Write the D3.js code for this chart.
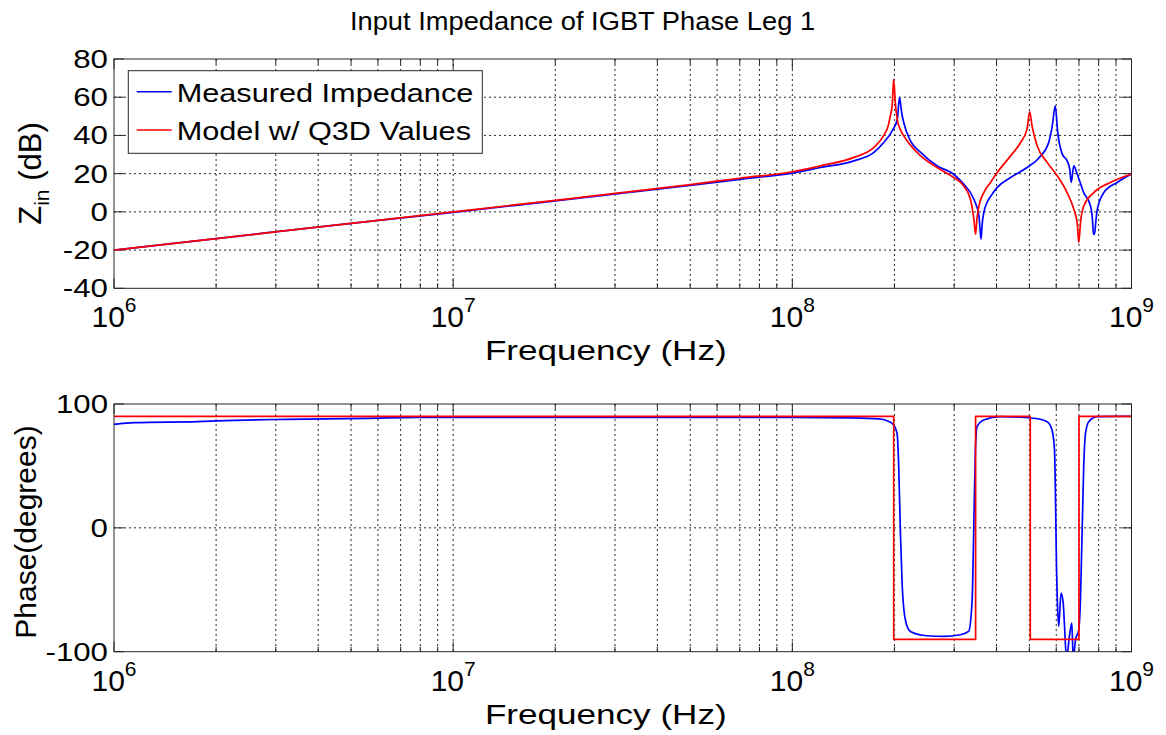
<!DOCTYPE html>
<html><head><meta charset="utf-8">
<script src="https://cdn.jsdelivr.net/npm/d3@7"></script>
<style>
body{margin:0;background:#fff}
text{font-family:"Liberation Sans",Arial,Helvetica,sans-serif;fill:#000}
</style>
</head><body>
<svg id="c" width="1166" height="735"></svg>
<script>
// ---------------- DATA ----------------
const seriesNames = ["Measured Impedance", "Model w/ Q3D Values"];
const yTicksMag = [-40, -20, 0, 20, 40, 60, 80];
const yTicksPhase = [-100, 0, 100];
const xDecades = [1e6, 1e7, 1e8, 1e9];
const xDecadeExp = ["6", "7", "8", "9"];

// magnitude (dB) – measured
const magFreqMeasured = [1e6,2e6,5e6,1e7,2e7,5e7,7e7,1e8,1.21e8,1.52e8,1.74e8,1.86e8,1.97e8,2.04e8,2.07e8,2.1e8,2.13e8,2.23e8,2.39e8,2.67e8,2.99e8,3.2e8,3.43e8,3.55e8,3.6e8,3.63e8,3.67e8,3.75e8,3.84e8,4.02e8,4.4e8,4.92e8,5.35e8,5.7e8,5.84e8,5.96e8,6.06e8,6.25e8,6.46e8,6.58e8,6.64e8,6.76e8,6.92e8,7.23e8,7.57e8,7.68e8,7.72e8,7.78e8,7.85e8,7.93e8,8.29e8,9.07e8,1e9];
const magMeasured = [-20,-14,-6,-0.3,5.8,13.8,17,20.3,23.2,26.7,31.1,36.3,42.4,48.6,59.9,52,46.8,37.2,31.1,24.1,19.7,14.5,6.6,-2.1,-14.3,-6,-0.3,4.9,8,12.8,18,23.2,28.5,36.3,45,55.5,41.6,30.2,26.7,22,15.4,24.1,19.7,10.1,3.1,-5,-11.7,-11.7,-5,1.4,10.1,15.4,19.8];

// magnitude (dB) – model
const magFreqModel = [1e6,2e6,5e6,1e7,2e7,5e7,7e7,1e8,1.21e8,1.52e8,1.74e8,1.86e8,1.92e8,1.945e8,1.97e8,1.99e8,2.01e8,2.04e8,2.08e8,2.18e8,2.39e8,2.67e8,2.99e8,3.2e8,3.35e8,3.43e8,3.47e8,3.5e8,3.55e8,3.67e8,3.84e8,4.02e8,4.4e8,4.71e8,4.92e8,5.01e8,5.09e8,5.27e8,5.64e8,6.04e8,6.46e8,6.76e8,6.92e8,6.99e8,7.08e8,7.23e8,7.74e8,8.67e8,1e9];
const magModel = [-20,-14,-6,0,6,14.3,17.6,21,24.1,28.5,33.7,40,45.5,50.3,56,69.5,58,48,43.3,37.2,29.3,23.2,18,13.6,6.6,-3.9,-11.7,-4,3.1,10.1,15.4,20.6,29.3,36.3,43.3,52.4,45,34.6,25.9,18.9,10.1,1.4,-6,-16.1,-5,3.1,10.1,15.4,19.8];

// phase (degrees) – measured
const phFreqMeasured = [1e6,1.15e6,1.76e6,2.26e6,3.24e6,5.57e6,7.83e6,3.1e7,1e8,1.5e8,1.8e8,1.904e8,1.99e8,2.036e8,2.059e8,2.083e8,2.107e8,2.154e8,2.228e8,2.497e8,2.795e8,3.13e8,3.31e8,3.39e8,3.425e8,3.465e8,3.505e8,3.666e8,4.11e8,5.15e8,5.64e8,5.83e8,5.93e8,5.97e8,6.01e8,6.04e8,6.1e8,6.2e8,6.29e8,6.34e8,6.43e8,6.58e8,6.67e8,6.73e8,6.84e8,6.99e8,7.07e8,7.15e8,7.23e8,7.32e8,7.48e8,7.92e8,1e9];
const phMeasured = [83.6,85,85.8,86.8,87.6,88.4,89.2,89.2,89.2,88.8,88,86.5,83,76.4,49.5,-4.3,-44.6,-74.2,-83.6,-87.1,-87.6,-86.3,-83.6,-58,-4.3,62.9,81.7,87.1,89.8,88.5,85.7,79,62.9,22.6,-31.2,-55.4,-79.6,-52.7,-60.7,-76.9,-105,-84.9,-76.9,-105,-90.3,-82.3,-58,-4.3,49.5,76.4,85.7,89.8,90];

// phase (degrees) – model
const phFreqModel = [1e6,1.99e8,1.99e8,3.47e8,3.47e8,5.03e8,5.03e8,7.0e8,7.0e8,1e9];
const phModel = [90,90,-90,-90,90,90,-90,-90,90,90];

// ---------------- DRAW ----------------
const svg = d3.select("#c");
const L = 114, R = 1131.5;
const x = d3.scaleLog().domain([1e6, 1e9]).range([L, R]);
const panels = [
  {top: 59, bot: 288.3, dom: [-40, 80], ticks: yTicksMag,
   series: [[magFreqMeasured, magMeasured, "#0000ff", true], [magFreqModel, magModel, "#ff0000", true]]},
  {top: 404, bot: 651.7, dom: [-100, 100], ticks: yTicksPhase,
   series: [[phFreqMeasured, phMeasured, "#0000ff", true], [phFreqModel, phModel, "#ff0000", false]]}
];

const gridX = [];
for (let d = 1e6; d < 1e9; d *= 10) for (let k = 1; k <= 9; k++) gridX.push(d * k);
gridX.push(1e9);

panels.forEach((p, i) => {
  const y = d3.scaleLinear().domain(p.dom).range([p.bot, p.top]);
  const g = svg.append("g");
  // grid
  const grid = g.append("g").attr("stroke", "#111").attr("stroke-width", 0.9)
    .attr("stroke-dasharray", "2,3").attr("fill", "none");
  gridX.filter(v => v > 1e6 && v < 1e9).forEach(v => {
    grid.append("line").attr("x1", x(v)).attr("x2", x(v)).attr("y1", p.top).attr("y2", p.bot);
  });
  p.ticks.filter(v => v > p.dom[0] && v < p.dom[1]).forEach(v => {
    grid.append("line").attr("x1", L).attr("x2", R).attr("y1", y(v)).attr("y2", y(v));
  });
  // ticks (inside, all four sides)
  const tk = g.append("g").attr("stroke", "#262626").attr("stroke-width", 1);
  gridX.forEach(v => {
    const major = xDecades.includes(v);
    const len = major ? 10 : 5;
    tk.append("line").attr("x1", x(v)).attr("x2", x(v)).attr("y1", p.bot).attr("y2", p.bot - len);
    tk.append("line").attr("x1", x(v)).attr("x2", x(v)).attr("y1", p.top).attr("y2", p.top + len);
  });
  p.ticks.forEach(v => {
    tk.append("line").attr("x1", L).attr("x2", L + 10).attr("y1", y(v)).attr("y2", y(v));
    tk.append("line").attr("x1", R).attr("x2", R - 10).attr("y1", y(v)).attr("y2", y(v));
  });
  // data
  const cid = "clip" + i;
  svg.append("clipPath").attr("id", cid).append("rect")
    .attr("x", L).attr("y", p.top).attr("width", R - L).attr("height", p.bot - p.top);
  const dg = g.append("g").attr("clip-path", `url(#${cid})`);
  p.series.forEach(([fx, vy, col, smooth]) => {
    const line = d3.line().x((d, j) => x(fx[j])).y(d => y(d))
      .curve(smooth ? d3.curveMonotoneX : d3.curveLinear);
    dg.append("path").attr("d", line(vy)).attr("fill", "none")
      .attr("stroke", col).attr("stroke-width", 1.7).attr("stroke-linejoin", "round");
  });
  // box
  g.append("rect").attr("x", L).attr("y", p.top).attr("width", R - L).attr("height", p.bot - p.top)
    .attr("fill", "none").attr("stroke", "#262626").attr("stroke-width", 1);
  // y tick labels
  p.ticks.forEach(v => {
    g.append("text").attr("transform", `translate(${L - 6},${y(v) + 9}) scale(1.25,1)`)
      .attr("text-anchor", "end").attr("font-size", 25).text(v);
  });
  // x tick labels 10^n
  xDecades.forEach((v, j) => {
    const t = g.append("text").attr("x", x(v)).attr("y", p.bot + 39)
      .attr("text-anchor", "middle").attr("font-size", 30);
    t.append("tspan").text("10");
    t.append("tspan").attr("dy", -15).attr("font-size", 21).text(xDecadeExp[j]);
  });
  // x label
  g.append("text").attr("transform", `translate(${(L + R) / 2 - 17},${p.bot + 72}) scale(1.3,1)`)
    .attr("text-anchor", "middle").attr("font-size", 27).text("Frequency (Hz)");
});

// y labels
const zl = svg.append("text").attr("transform", "translate(41,173.5) rotate(-90)")
  .attr("text-anchor", "middle").attr("font-size", 31);
zl.append("tspan").text("Z");
zl.append("tspan").attr("dy", 8).attr("font-size", 21).text("in");
zl.append("tspan").attr("dy", -8).text(" (dB)");

svg.append("text").attr("transform", "translate(36,532) rotate(-90)")
  .attr("text-anchor", "middle").attr("font-size", 30).text("Phase(degrees)");

// title
svg.append("text").attr("transform", "translate(582.5,30) scale(1.05,1)")
  .attr("text-anchor", "middle").attr("font-size", 26)
  .text("Input Impedance of IGBT Phase Leg 1");

// legend
const lg = svg.append("g");
lg.append("rect").attr("x", 128.3).attr("y", 70.7).attr("width", 354).attr("height", 82.6)
  .attr("fill", "#fff").attr("stroke", "#262626").attr("stroke-width", 1);
const legCols = ["#0000ff", "#ff0000"];
seriesNames.forEach((nm, i) => {
  const yy = 91.7 + i * 38.3;
  lg.append("line").attr("x1", 136.7).attr("x2", 171.7).attr("y1", yy).attr("y2", yy)
    .attr("stroke", legCols[i]).attr("stroke-width", 1.6);
  lg.append("text").attr("transform", `translate(176.7,${yy + 10}) scale(1.18,1)`)
    .attr("font-size", 26).text(nm);
});
</script>
</body></html>
